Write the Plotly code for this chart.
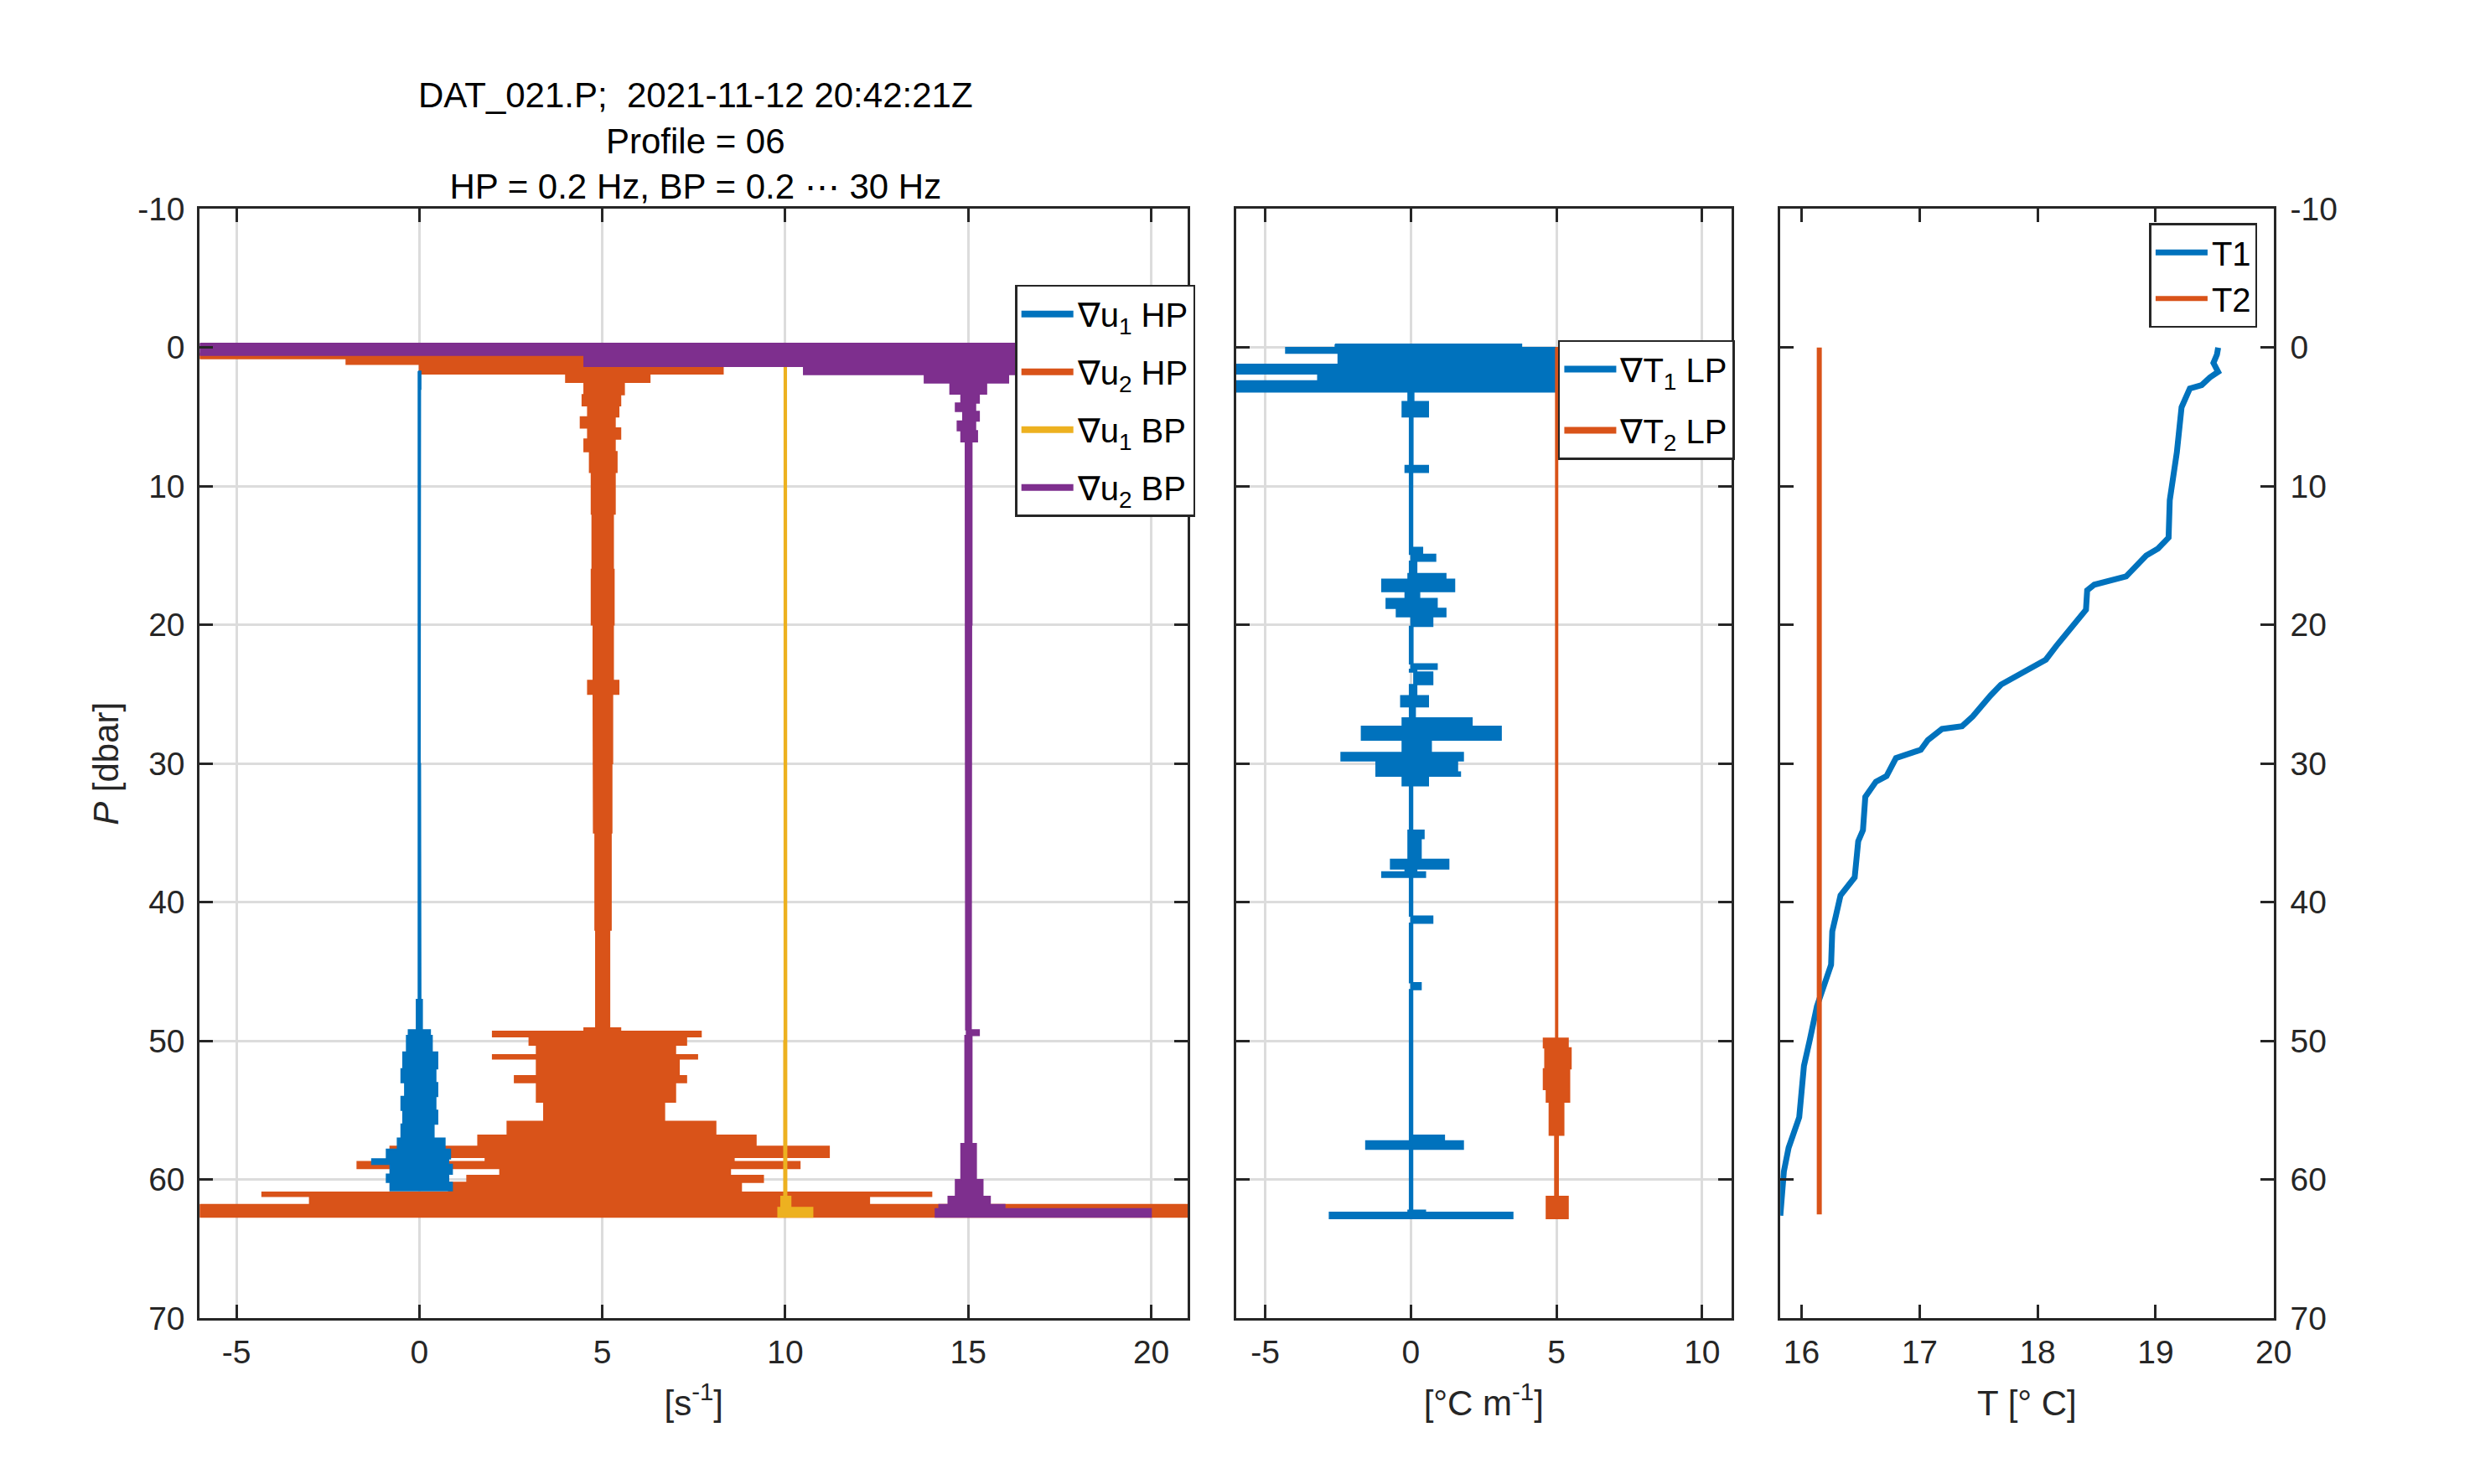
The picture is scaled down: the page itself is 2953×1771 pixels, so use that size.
import plotly.graph_objects as go

# cores padrão do MATLAB
BLUE = '#0072BD'
ORANGE = '#D95319'
YELLOW = '#EDB120'
PURPLE = '#7E2F8E'
INK = '#262626'
GRID = '#DCDCDC'
FONT = 'Liberation Sans, Arial, sans-serif'

# --- painel 1: cisalhamento (envelopes por faixa de pressão) ---
# limites das faixas [dbar] e extremos esquerdo/direito de cada faixa [s^-1]
P_U1HP = [1.7, 3, 10, 20, 30, 40, 47, 49.2, 49.6, 50.8, 52, 53, 54, 55, 56, 57,
          57.8, 58.5, 58.9, 59.6, 60.2, 60.8]
LO_U1HP = [-0.03, -0.03, -0.02, -0.03, -0.02, -0.03, -0.08, -0.3, -0.35, -0.45, -0.5,
           -0.4, -0.5, -0.45, -0.5, -0.6, -0.9, -1.3, -0.8, -0.9, -0.8]
HI_U1HP = [0.04, 0.03, 0.03, 0.02, 0.03, 0.04, 0.08, 0.3, 0.35, 0.5, 0.45,
           0.5, 0.45, 0.5, 0.4, 0.7, 0.85, 0.8, 0.9, 0.8, 0.9]

P_U2HP = [0.4, 0.8, 1.2, 1.9, 2.5, 3.4, 4.2, 5.0, 5.8, 6.6, 7.5, 9, 12, 16, 20, 24, 25,
          30, 35, 42, 49.06, 49.3, 49.7, 50.3, 51.0, 51.3, 52.5, 53.0, 54.4, 55.8,
          56.8, 57.6, 58.4, 58.7, 59.2, 59.7, 60.2, 60.9, 61.2, 61.8, 62.7]
LO_U2HP = [-6, -2, 0, 4.0, 4.5, 4.45, 4.6, 4.4, 4.6, 4.5, 4.65, 4.7, 4.72, 4.7, 4.75,
           4.6, 4.75, 4.76, 4.8, 4.82, 4.5, 2.0, 3.0, 3.2, 2.0, 3.2, 2.6, 3.2, 3.4,
           2.4, 1.6, -0.8, 1.8, -1.7, 2.2, 1.3, 0.8, -4.3, -3.0, -6]
HI_U2HP = [8.7, 8.7, 8.3, 6.3, 5.6, 5.5, 5.45, 5.35, 5.5, 5.35, 5.4, 5.35, 5.3, 5.32,
           5.3, 5.45, 5.28, 5.26, 5.24, 5.2, 5.5, 7.7, 7.3, 7.0, 7.6, 7.1, 7.3, 7.0,
           6.7, 8.1, 9.2, 11.2, 8.6, 10.4, 8.5, 9.4, 8.8, 14.0, 12.3, 21]

P_U1BP = [1.2, 10, 30, 50, 61.2, 62.0, 62.7]
LO_U1BP = [9.97, 9.98, 9.97, 9.96, 9.88, 9.8]
HI_U1BP = [10.03, 10.04, 10.03, 10.04, 10.15, 10.75]

P_U2BP = [-0.3, 0.55, 1.35, 1.95, 2.55, 3.35, 4.0, 4.6, 5.3, 6.0, 6.8, 20, 40, 49.2,
          49.6, 57.4, 60.0, 61.2, 61.8, 62.1, 62.7]
LO_U2BP = [-6, 4.5, 10.5, 13.8, 14.5, 14.8, 14.65, 14.85, 14.7, 14.8, 14.92, 14.93,
           14.93, 14.95, 14.91, 14.8, 14.65, 14.45, 14.2, 14.1]
HI_U2BP = [21, 21, 19, 16.1, 15.5, 15.3, 15.2, 15.3, 15.2, 15.25, 15.1, 15.09,
           15.08, 15.3, 15.1, 15.22, 15.4, 15.6, 16.0, 20.0]

# --- painel 2: gradiente de temperatura [°C m^-1] ---
P_T1LP = [-0.25, 0.0, 0.4, 1.2, 1.9, 2.4, 3.2, 3.9, 5.0, 8.5, 9.0, 14.4, 14.9, 15.4,
          16.3, 16.7, 17.6, 18.1, 18.8, 19.4, 20.1, 22.8, 23.2, 23.4, 24.3, 25.1,
          25.9, 26.7, 27.3, 28.3, 29.2, 29.8, 30.6, 30.9, 31.6, 34.8, 35.4, 36.9,
          37.6, 37.8, 38.2, 41.0, 41.5, 45.8, 46.3, 56.8, 57.2, 57.8, 62.2, 62.35, 62.8]
LO_T1LP = [-2.6, -4.3, -2.5, -6, -3.2, -6, -0.1, -0.3, -0.05, -0.2, -0.05, -0.05, 0.0,
           -0.05, -0.1, -1.0, -0.2, -0.85, -0.5, 0.0, -0.05, 0.0, -0.05, 0.1, -0.05,
           -0.35, -0.05, -0.3, -1.7, -0.3, -2.4, -1.2, -1.2, -0.3, -0.05, -0.1, -0.1,
           -0.7, -0.2, -1.0, -0.05, 0.0, -0.05, 0.0, -0.05, -0.05, -1.55, -0.05, -0.1, -2.8]
HI_T1LP = [3.8, 7, 7, 7, 7, 7, 0.1, 0.6, 0.07, 0.6, 0.06, 0.4, 0.85, 0.2, 1.2, 1.5, 0.3,
           0.9, 1.2, 0.75, 0.07, 0.9, 0.2, 0.75, 0.2, 0.6, 0.15, 2.1, 3.1, 0.7, 1.8,
           1.6, 1.7, 0.6, 0.06, 0.45, 0.35, 1.3, 0.2, 0.5, 0.06, 0.75, 0.06, 0.35, 0.06,
           1.15, 1.8, 0.06, 0.5, 3.5]

P_T2LP = [0, 10, 30, 49.8, 50.5, 52, 53.5, 54.4, 56.8, 61.2, 62.8]
LO_T2LP = [4.97, 4.97, 4.97, 4.55, 4.6, 4.55, 4.65, 4.75, 4.94, 4.65]
HI_T2LP = [5.04, 5.03, 5.04, 5.4, 5.5, 5.45, 5.45, 5.25, 5.06, 5.4]

# --- painel 3: temperatura [°C] ---
P_T1 = [0.0, 0.5, 1.1, 1.75, 2.15, 2.7, 2.95, 4.3, 7.55, 11.0, 13.7, 14.5, 15.0, 15.9,
        16.5, 17.1, 17.5, 18.9, 20.0, 21.5, 22.5, 23.4, 24.3, 25.1, 26.6, 27.3, 27.5,
        28.3, 29.0, 29.6, 30.9, 31.3, 32.4, 34.8, 35.6, 38.2, 39.5, 41.0, 42.1, 44.5,
        45.9, 47.5, 49.9, 51.8, 55.5, 57.0, 57.7, 59.4, 62.6]
T1 = [19.53, 19.52, 19.49, 19.53, 19.46, 19.39, 19.29, 19.22, 19.18, 19.12, 19.11,
      19.02, 18.92, 18.82, 18.75, 18.48, 18.42, 18.41, 18.3, 18.16, 18.07, 17.89,
      17.69, 17.6, 17.45, 17.36, 17.19, 17.07, 17.01, 16.8, 16.72, 16.63, 16.54,
      16.52, 16.48, 16.45, 16.33, 16.29, 16.26, 16.25, 16.19, 16.13, 16.07, 16.02,
      15.98, 15.92, 15.89, 15.85, 15.82]
P_T2 = [0.0, 62.5]
T2 = [16.15, 16.15]

# marcas dos eixos
P_TICKS = [-10, 0, 10, 20, 30, 40, 50, 60, 70]
SHEAR_TICKS = [-5, 0, 5, 10, 15, 20]
GRAD_TICKS = [-5, 0, 5, 10]
TEMP_TICKS = [16, 17, 18, 19, 20]


# Converte as faixas (pressão, esquerda, direita) no contorno fechado do envelope
def envelope(p, lo, hi):
    xs, ys = [], []
    for i in range(len(lo)):
        xs += [lo[i], lo[i]]
        ys += [p[i], p[i + 1]]
    for i in reversed(range(len(hi))):
        xs += [hi[i], hi[i]]
        ys += [p[i + 1], p[i]]
    return xs + xs[:1], ys + ys[:1]


def perfil(p, lo, hi, cor, xa, ya):
    x, y = envelope(p, lo, hi)
    return go.Scatter(x=x, y=y, mode='lines', fill='toself', fillcolor=cor,
                      line=dict(color=cor, width=1.5), xaxis=xa, yaxis=ya,
                      showlegend=False, hoverinfo='skip')


def item_legenda(nome, cor, xa, ya, leg):
    return go.Scatter(x=[None], y=[None], mode='lines', name=nome,
                      line=dict(color=cor, width=8), xaxis=xa, yaxis=ya,
                      legend=leg, legendgroup=nome)


fig = go.Figure()

# painel 1
fig.add_trace(perfil(P_U2HP, LO_U2HP, HI_U2HP, ORANGE, 'x', 'y'))
fig.add_trace(perfil(P_U1HP, LO_U1HP, HI_U1HP, BLUE, 'x', 'y'))
fig.add_trace(perfil(P_U1BP, LO_U1BP, HI_U1BP, YELLOW, 'x', 'y'))
fig.add_trace(perfil(P_U2BP, LO_U2BP, HI_U2BP, PURPLE, 'x', 'y'))
for nome, cor in [('∇u<sub>1</sub> HP', BLUE), ('∇u<sub>2</sub> HP', ORANGE),
                  ('∇u<sub>1</sub> BP', YELLOW), ('∇u<sub>2</sub> BP', PURPLE)]:
    fig.add_trace(item_legenda(nome, cor, 'x', 'y', 'legend'))

# painel 2
fig.add_trace(perfil(P_T1LP, LO_T1LP, HI_T1LP, BLUE, 'x2', 'y2'))
fig.add_trace(perfil(P_T2LP, LO_T2LP, HI_T2LP, ORANGE, 'x2', 'y2'))
for nome, cor in [('∇T<sub>1</sub> LP', BLUE), ('∇T<sub>2</sub> LP', ORANGE)]:
    fig.add_trace(item_legenda(nome, cor, 'x2', 'y2', 'legend2'))

# painel 3
fig.add_trace(go.Scatter(x=T1, y=P_T1, mode='lines', name='T1', xaxis='x3', yaxis='y3',
                         line=dict(color=BLUE, width=7), legend='legend3', legendgroup='T1'))
fig.add_trace(go.Scatter(x=T2, y=P_T2, mode='lines', name='T2', xaxis='x3', yaxis='y3',
                         line=dict(color=ORANGE, width=6), legend='legend3', legendgroup='T2'))

Y_DOM = [0.1063, 0.8725]
tick_font = dict(family=FONT, size=39, color=INK)
label_font = dict(family=FONT, size=42, color=INK)


def eixo(dominio, faixa, ticks, grade, **extra):
    d = dict(domain=dominio, range=faixa, tickvals=ticks, ticktext=[str(t) for t in ticks],
             ticks='inside', ticklen=16, tickwidth=3, tickcolor=INK, showline=True,
             linewidth=3, linecolor=INK, mirror='ticks', showgrid=grade, gridcolor=GRID,
             gridwidth=2.5, zeroline=False, tickfont=tick_font)
    d.update(extra)
    return d


leg_common = dict(bgcolor='white', bordercolor=INK, borderwidth=2.5, xanchor='left',
                  yanchor='top', font=dict(family=FONT, size=40, color='black'),
                  traceorder='grouped', itemwidth=62)

fig.update_layout(
    width=2953, height=1771, margin=dict(l=0, r=0, t=0, b=0),
    paper_bgcolor='white', plot_bgcolor='white', font=dict(family=FONT, color=INK),
    xaxis=eixo([0.0786, 0.4808], [-6, 21], SHEAR_TICKS, True, anchor='y',
               ticklabelstandoff=4,
               title=dict(text='[s<sup>-1</sup>]', standoff=26, font=label_font)),
    yaxis=eixo(Y_DOM, [70, -10], P_TICKS, True, anchor='x', ticklabelstandoff=7,
               title=dict(text='<i>P</i> [dbar]', standoff=10, font=label_font)),
    xaxis2=eixo([0.5005, 0.702], [-6, 11], GRAD_TICKS, True, anchor='y2',
                ticklabelstandoff=4,
                title=dict(text='[°C m<sup>-1</sup>]', standoff=26, font=label_font)),
    yaxis2=eixo(Y_DOM, [70, -10], P_TICKS, True, anchor='x2', showticklabels=False),
    xaxis3=eixo([0.722, 0.9228], [15.82, 20], TEMP_TICKS, False, anchor='y3',
                ticklabelstandoff=4,
                title=dict(text='T [° C]', standoff=26, font=label_font)),
    yaxis3=eixo(Y_DOM, [70, -10], P_TICKS, False, anchor='x3', side='right',
                ticklabelstandoff=9),
    legend=dict(x=0.4105, y=0.8202, tracegroupgap=14, **leg_common),
    legend2=dict(x=0.6315, y=0.7821, tracegroupgap=18, **leg_common),
    legend3=dict(x=0.8722, y=0.8627, tracegroupgap=0, **leg_common),
    annotations=[dict(
        text='DAT_021.P;  2021-11-12 20:42:21Z<br>Profile = 06<br>'
             'HP = 0.2 Hz, BP = 0.2 ⋯ 30 Hz',
        x=0.2806, y=0.8735, xref='paper', yref='paper', xanchor='center',
        yanchor='bottom', showarrow=False, align='center',
        font=dict(family=FONT, size=42, color='black'))],
)

fig.write_html("out.html")
